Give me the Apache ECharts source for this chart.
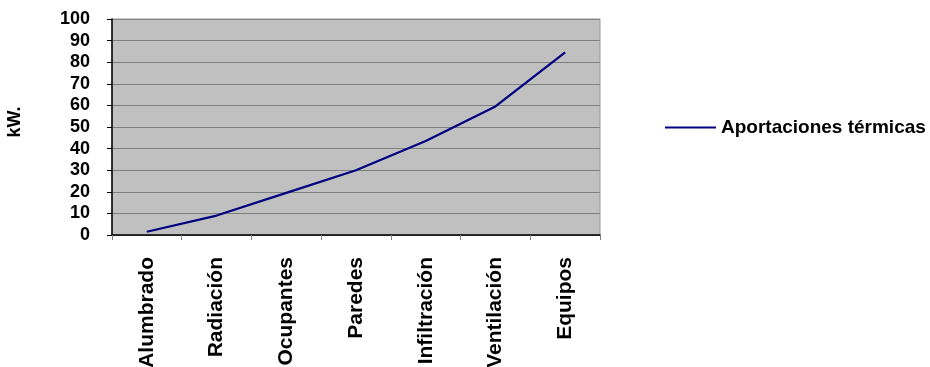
<!DOCTYPE html>
<html>
<head>
<meta charset="utf-8">
<script src="https://cdn.jsdelivr.net/npm/echarts@6/dist/echarts.min.js"></script>
<style>
  html, body { margin: 0; padding: 0; background: #fff; }
  #chart { width: 930px; height: 367px; }
</style>
</head>
<body>
<div id="chart"></div>
<script>
// Heat gains by source (kW)
const categories = ['Alumbrado', 'Radiación', 'Ocupantes', 'Paredes', 'Infiltración', 'Ventilación', 'Equipos'];
const seriesName = 'Aportaciones térmicas';
const gainsKW = [1.5, 9, 19.5, 30, 43.5, 59.5, 84.5];
const yTicks = [0, 10, 20, 30, 40, 50, 60, 70, 80, 90, 100];

const FONT = 'Liberation Sans, Arial, sans-serif';
const chart = echarts.init(document.getElementById('chart'), null, { renderer: 'canvas' });

chart.setOption({
  animation: false,
  backgroundColor: '#ffffff',
  textStyle: { fontFamily: FONT },
  grid: {
    left: 112, right: 330, top: 19, bottom: 132,
    outerBoundsMode: 'none',
    containLabel: false,
    show: true,
    backgroundColor: '#c0c0c0',
    borderColor: '#9a9a9a',
    borderWidth: 1
  },
  legend: {
    left: 665, top: 118,
    padding: 0,
    icon: 'rect',
    itemWidth: 51, itemHeight: 2,
    itemGap: 0,
    textStyle: { fontFamily: FONT, fontWeight: 'bold', fontSize: 19, color: '#000' },
    data: [seriesName]
  },
  xAxis: {
    type: 'category',
    data: categories,
    boundaryGap: true,
    axisLine: { lineStyle: { color: '#000', width: 1.5 } },
    axisTick: { show: true, length: 5, lineStyle: { color: '#808080' } },
    axisLabel: {
      rotate: 90, margin: 22, color: '#000',
      fontFamily: FONT, fontWeight: 'bold', fontSize: 21
    },
    splitLine: { show: false }
  },
  yAxis: {
    type: 'value',
    min: yTicks[0], max: yTicks[yTicks.length - 1], interval: 10,
    name: 'kW.',
    nameLocation: 'middle',
    nameGap: 88,
    nameRotate: 90,
    nameTextStyle: { fontFamily: FONT, fontWeight: 'bold', fontSize: 18, color: '#000', padding: [0, 0, 0, 10] },
    axisLine: { show: true, lineStyle: { color: '#000', width: 1.5 } },
    axisTick: { show: true, length: 5, lineStyle: { color: '#000' } },
    axisLabel: {
      margin: 22, color: '#000',
      fontFamily: FONT, fontWeight: 'bold', fontSize: 18,
      formatter: v => (yTicks.includes(v) ? String(v) : '')
    },
    splitLine: { show: true, lineStyle: { color: '#808080', width: 1 } }
  },
  series: [{
    name: seriesName,
    type: 'line',
    data: gainsKW,
    symbol: 'none',
    lineStyle: { color: '#000080', width: 2.2 },
    itemStyle: { color: '#000080' }
  }]
});
</script>
</body>
</html>
